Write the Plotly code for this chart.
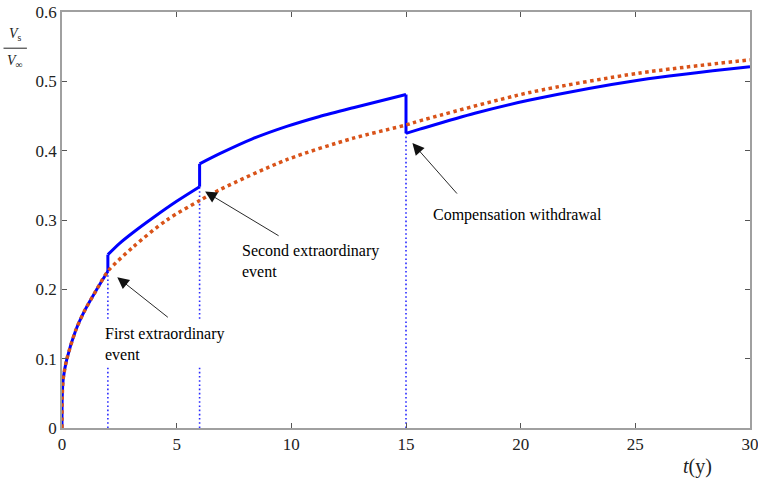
import plotly.graph_objects as go

# ---- data ----
base_t = [0, 0.01, 0.05, 0.2, 0.6, 1.0, 1.5, 2.0, 3.1, 4.57, 6.0, 6.9, 9.8, 12.7, 15.0, 15.6, 20.4, 25.2, 30.0]
base_v = [0, 0.045, 0.07, 0.098, 0.141, 0.170, 0.199, 0.226, 0.261, 0.300, 0.328, 0.344, 0.387, 0.418, 0.437, 0.443, 0.484, 0.512, 0.531]

blue_t = [0, 0.01, 0.05, 0.2, 0.6, 1.0, 1.5, 2.0, 2.0, 2.5, 3.1, 4.0, 5.0, 6.0, 6.0, 6.9, 8.3, 9.8, 11.2, 12.7, 15.0, 15.0, 15.6, 18.0, 20.4, 25.2, 30.0]
blue_v = [0, 0.045, 0.07, 0.098, 0.141, 0.170, 0.199, 0.226, 0.250, 0.266, 0.282, 0.304, 0.327, 0.348, 0.381, 0.396, 0.417, 0.435, 0.449, 0.462, 0.481, 0.425, 0.431, 0.454, 0.473, 0.502, 0.521]

event_t = [2, 6, 15]
event_v = [0.226, 0.348, 0.425]

labels = ["First extraordinary<br>event", "Second extraordinary<br>event", "Compensation withdrawal"]
label_xy = [(1.66, 0.121), (7.63, 0.241), (15.96, 0.307)]
arrow_tip = [(2.41, 0.2175), (6.24, 0.341), (15.28, 0.411)]
arrow_tail = [(4.68, 0.158), (9.51, 0.276), (17.28, 0.336)]

x_ticks = [0, 5, 10, 15, 20, 25, 30]
y_ticks = [0, 0.1, 0.2, 0.3, 0.4, 0.5, 0.6]

SERIF = "Liberation Serif, Times New Roman, serif"
BLUE = "#0000FF"
ORANGE = "#D95319"

fig = go.Figure()

# vertical dotted event lines
for t, v in zip(event_t, event_v):
    fig.add_trace(go.Scatter(x=[t, t], y=[0, v], mode="lines",
                             line=dict(color="#2a2aff", width=1.6, dash="1.6px,2.6px"),
                             hoverinfo="skip", showlegend=False))

# blue curve split into smooth segments, with straight jumps
segs = []
cur_t, cur_v = [blue_t[0]], [blue_v[0]]
for i in range(1, len(blue_t)):
    if blue_t[i] == blue_t[i - 1]:
        segs.append((cur_t, cur_v))
        fig.add_trace(go.Scatter(x=[blue_t[i - 1], blue_t[i]], y=[blue_v[i - 1], blue_v[i]],
                                 mode="lines", line=dict(color=BLUE, width=3),
                                 hoverinfo="skip", showlegend=False))
        cur_t, cur_v = [blue_t[i]], [blue_v[i]]
    else:
        cur_t.append(blue_t[i])
        cur_v.append(blue_v[i])
segs.append((cur_t, cur_v))
for st, sv in segs:
    fig.add_trace(go.Scatter(x=st, y=sv, mode="lines", line_shape="spline",
                             line=dict(color=BLUE, width=3, smoothing=0.8),
                             showlegend=False))

# orange dotted base curve
fig.add_trace(go.Scatter(x=base_t, y=base_v, mode="lines", line_shape="spline",
                         line=dict(color=ORANGE, width=3.5, dash="dot", smoothing=0.8),
                         showlegend=False))

annotations = []
for (tx, ty), (hx, hy) in zip(arrow_tail, arrow_tip):
    annotations.append(dict(x=hx, y=hy, ax=tx, ay=ty, xref="x", yref="y", axref="x", ayref="y",
                            text="", showarrow=True, arrowhead=2, arrowsize=2.6,
                            arrowwidth=0.9, arrowcolor="#111111"))
for txt, (lx, ly) in zip(labels, label_xy):
    annotations.append(dict(x=lx, y=ly, xref="x", yref="y", text=txt, showarrow=False,
                            xanchor="left", yanchor="middle", align="left",
                            bgcolor="white", borderpad=4,
                            font=dict(family=SERIF, size=16, color="black")))

# axis labels
annotations.append(dict(x=0.923, y=-0.093, xref="paper", yref="paper",
                        xanchor="center", yanchor="middle",
                        text="<i>t</i>(y)", showarrow=False,
                        font=dict(family=SERIF, size=20, color="#222")))
annotations.append(dict(x=-0.068, y=0.945, xref="paper", yref="paper",
                        xanchor="center", yanchor="middle",
                        text="<i>V</i><sub>s</sub>", showarrow=False,
                        font=dict(family=SERIF, size=14, color="#222")))
annotations.append(dict(x=-0.068, y=0.88, xref="paper", yref="paper",
                        xanchor="center", yanchor="middle",
                        text="<i>V</i><sub>∞</sub>", showarrow=False,
                        font=dict(family=SERIF, size=14, color="#222")))

fig.update_layout(
    width=758, height=479,
    margin=dict(l=62, r=8, t=12, b=51, autoexpand=False),
    paper_bgcolor="white", plot_bgcolor="white",
    annotations=annotations,
    shapes=[dict(type="line", xref="paper", yref="paper", x0=-0.085, x1=-0.051,
                 y0=0.913, y1=0.913, line=dict(color="#222", width=1))],
    xaxis=dict(range=[0, 30], tickvals=x_ticks, ticktext=[str(v) for v in x_ticks],
               automargin=False, ticklabeloverflow="allow",
               showgrid=False, zeroline=False, showline=True, linecolor="#a0a0a0",
               linewidth=1.5, mirror="ticks", ticks="inside", ticklen=5, tickcolor="#555",
               tickfont=dict(family=SERIF, size=17, color="#222")),
    yaxis=dict(range=[0, 0.6], tickvals=y_ticks, ticktext=["0", "0.1", "0.2", "0.3", "0.4", "0.5", "0.6"],
               automargin=False, ticklabeloverflow="allow",
               showgrid=False, zeroline=False, showline=True, linecolor="#a0a0a0",
               linewidth=1.5, mirror="ticks", ticks="inside", ticklen=5, tickcolor="#555",
               tickfont=dict(family=SERIF, size=17, color="#222")),
)

fig.write_html("out.html")
